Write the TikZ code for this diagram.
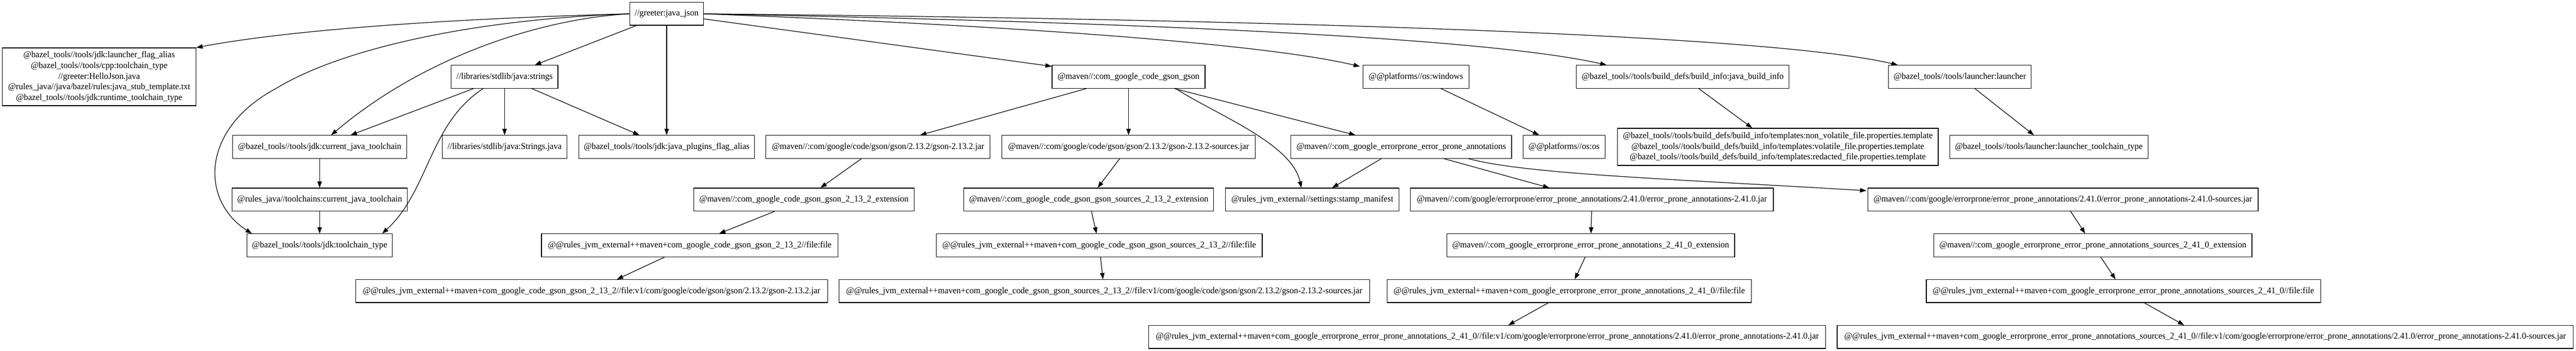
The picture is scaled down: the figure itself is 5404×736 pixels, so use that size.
\documentclass[tikz,border=0pt]{standalone}
\usepackage{fontspec}
\setmainfont{Liberation Serif}[FakeStretch=0.965]
\usetikzlibrary{arrows.meta,calc}
\tikzset{
  box/.style={draw, line width=1pt, rectangle, inner sep=0pt, minimum height=36pt,
    font=\fontsize{14pt}{16.8pt}\selectfont, align=center},
  bw/.style={minimum width=#1*0.75pt},
  bh/.style={minimum height=#1*0.75pt},
  conn/.style={draw, line width=1pt, -{Triangle[length=10pt,width=7pt]}}
}
\begin{document}
\begin{tikzpicture}[x=0.75pt,y=-0.75pt]
\useasboundingbox[fill=white] (0,0) rectangle (5404,736);
% row 0
\node[box,bw=155] (greeter) at (1398.5,29) {//greeter:java\_json};
% row 1
\node[box,bw=406,bh=121] (multi) at (208,161) {@bazel\_tools//tools/jdk:launcher\_flag\_alias\\@bazel\_tools//tools/cpp:toolchain\_type\\//greeter:HelloJson.java\\@rules\_java//java/bazel/rules:java\_stub\_template.txt\\@bazel\_tools//tools/jdk:runtime\_toolchain\_type};
\node[box,bw=224] (strings) at (1058.5,161) {//libraries/stdlib/java:strings};
\node[box,bw=321] (gson) at (2367.5,161) {@maven//:com\_google\_code\_gson\_gson};
\node[box,bw=222] (oswin) at (2970.5,161) {@@platforms//os:windows};
\node[box,bw=446] (binfo) at (3530,161) {@bazel\_tools//tools/build\_defs/build\_info:java\_build\_info};
\node[box,bw=299] (launcher) at (4111.5,161) {@bazel\_tools//tools/launcher:launcher};
% row 2
\node[box,bw=365] (cjt) at (670.5,308) {@bazel\_tools//tools/jdk:current\_java\_toolchain};
\node[box,bw=261] (sjava) at (1058.5,308) {//libraries/stdlib/java:Strings.java};
\node[box,bw=369] (plugins) at (1398.5,308) {@bazel\_tools//tools/jdk:java\_plugins\_flag\_alias};
\node[box,bw=470] (gjar) at (1842,308) {@maven//:com/google/code/gson/gson/2.13.2/gson-2.13.2.jar};
\node[box,bw=531] (gsjar) at (2367.5,308) {@maven//:com/google/code/gson/gson/2.13.2/gson-2.13.2-sources.jar};
\node[box,bw=463] (epa) at (2939.5,308) {@maven//:com\_google\_errorprone\_error\_prone\_annotations};
\node[box,bw=172] (osos) at (3281,308) {@@platforms//os:os};
\node[box,bw=673,bh=78] (tmpl) at (3729.5,308) {@bazel\_tools//tools/build\_defs/build\_info/templates:non\_volatile\_file.properties.template\\@bazel\_tools//tools/build\_defs/build\_info/templates:volatile\_file.properties.template\\@bazel\_tools//tools/build\_defs/build\_info/templates:redacted\_file.properties.template};
\node[box,bw=416] (ltt) at (4298,308) {@bazel\_tools//tools/launcher:launcher\_toolchain\_type};
% row 3
\node[box,bw=367] (rjcjt) at (670.5,418.5) {@rules\_java//toolchains:current\_java\_toolchain};
\node[box,bw=463] (gext) at (1686.5,418.5) {@maven//:com\_google\_code\_gson\_gson\_2\_13\_2\_extension};
\node[box,bw=524] (gsext) at (2284,418.5) {@maven//:com\_google\_code\_gson\_gson\_sources\_2\_13\_2\_extension};
\node[box,bw=364] (stamp) at (2753,418.5) {@rules\_jvm\_external//settings:stamp\_manifest};
\node[box,bw=761] (epjar) at (3339.5,418.5) {@maven//:com/google/errorprone/error\_prone\_annotations/2.41.0/error\_prone\_annotations-2.41.0.jar};
\node[box,bw=819] (epsjar) at (4327.5,418.5) {@maven//:com/google/errorprone/error\_prone\_annotations/2.41.0/error\_prone\_annotations-2.41.0-sources.jar};
% row 4
\node[box,bw=305] (tct) at (670.5,514.5) {@bazel\_tools//tools/jdk:toolchain\_type};
\node[box,bw=622] (gfile) at (1447,514.5) {@@rules\_jvm\_external++maven+com\_google\_code\_gson\_gson\_2\_13\_2//file:file};
\node[box,bw=684] (gsfile) at (2306,514.5) {@@rules\_jvm\_external++maven+com\_google\_code\_gson\_gson\_sources\_2\_13\_2//file:file};
\node[box,bw=604] (epext) at (3337,514.5) {@maven//:com\_google\_errorprone\_error\_prone\_annotations\_2\_41\_0\_extension};
\node[box,bw=667] (epsext) at (4390.5,514.5) {@maven//:com\_google\_errorprone\_error\_prone\_annotations\_sources\_2\_41\_0\_extension};
% row 5
\node[box,bw=990] (gv1) at (1241,610.5) {@@rules\_jvm\_external++maven+com\_google\_code\_gson\_gson\_2\_13\_2//file:v1/com/google/code/gson/gson/2.13.2/gson-2.13.2.jar};
\node[box,bw=1113] (gsv1) at (2316.5,610.5) {@@rules\_jvm\_external++maven+com\_google\_code\_gson\_gson\_sources\_2\_13\_2//file:v1/com/google/code/gson/gson/2.13.2/gson-2.13.2-sources.jar};
\node[box,bw=764] (epfile) at (3292,610.5) {@@rules\_jvm\_external++maven+com\_google\_errorprone\_error\_prone\_annotations\_2\_41\_0//file:file};
\node[box,bw=827] (epsfile) at (4454.5,610.5) {@@rules\_jvm\_external++maven+com\_google\_errorprone\_error\_prone\_annotations\_sources\_2\_41\_0//file:file};
% row 6
\node[box,bw=1420] (epv1) at (3120,706.5) {@@rules\_jvm\_external++maven+com\_google\_errorprone\_error\_prone\_annotations\_2\_41\_0//file:v1/com/google/errorprone/error\_prone\_annotations/2.41.0/error\_prone\_annotations-2.41.0.jar};
\node[box,bw=1544] (epsv1) at (4626,706.5) {@@rules\_jvm\_external++maven+com\_google\_errorprone\_error\_prone\_annotations\_sources\_2\_41\_0//file:v1/com/google/errorprone/error\_prone\_annotations/2.41.0/error\_prone\_annotations-2.41.0-sources.jar};

% edges from greeter
\draw[conn] (greeter.west) .. controls (1050,36) and (650,55) .. (multi.north east);
\draw[conn] (greeter.west) .. controls (1000,40) and (720,100) .. (580,185) .. controls (420,270) and (420,420) .. ($(tct.north west)+(11,0)$);
\draw[conn] (greeter.west) .. controls (1150,38) and (900,110) .. ($(cjt.north)+(24,0)$);
\draw[conn] (greeter) -- (strings);
\draw[conn] (greeter) -- (plugins);
\draw[conn] (greeter) -- (gson);
\draw[conn] (greeter.east) .. controls (1900,45) and (2600,80) .. ($(oswin.north west)+(-6,3)$);
\draw[conn] (greeter.east) .. controls (2300,45) and (3100,75) .. ($(binfo.north west)+(64,0)$);
\draw[conn] (greeter.east) .. controls (2600,40) and (3700,70) .. ($(launcher.north west)+(20,0)$);
% strings
\draw[conn] (strings) -- (cjt);
\draw[conn] ($(strings.south)+(-45,0)$) .. controls (900,260) and (900,400) .. ($(tct.north east)+(-22,0)$);
\draw[conn] (strings) -- (sjava);
\draw[conn] (strings) -- (plugins);
% gson
\draw[conn] (gson) -- (gjar);
\draw[conn] (gson) -- (gsjar);
\draw[conn] (gson) -- (epa);
\draw[conn] ($(gson.south)+(99,0)$) .. controls (2550,240) and (2710,300) .. ($(stamp.north)+(-23,0)$);
\draw[conn] (oswin) -- (osos);
\draw[conn] (binfo) -- (tmpl);
\draw[conn] (launcher) -- (ltt);
% row 2 -> row 3
\draw[conn] (cjt) -- (rjcjt);
\draw[conn] (gjar) -- (gext);
\draw[conn] (gsjar) -- (gsext);
\draw[conn] (epa) -- (stamp);
\draw[conn] (epa) -- (epjar);
\draw[conn] ($(epa.south)+(141,0)$) .. controls (3200,365) and (3500,375) .. ($(epsjar.north west)+(-2,6)$);
% row 3 -> row 4
\draw[conn] (rjcjt) -- (tct);
\draw[conn] (gext) -- (gfile);
\draw[conn] (gsext) -- (gsfile);
\draw[conn] (epjar) -- (epext);
\draw[conn] (epsjar) -- (epsext);
% row 4 -> row 5
\draw[conn] (gfile) -- (gv1);
\draw[conn] (gsfile) -- (gsv1);
\draw[conn] (epext) -- (epfile);
\draw[conn] (epsext) -- (epsfile);
% row 5 -> row 6
\draw[conn] (epfile) -- (epv1);
\draw[conn] (epsfile) -- (epsv1);
\end{tikzpicture}
\end{document}
